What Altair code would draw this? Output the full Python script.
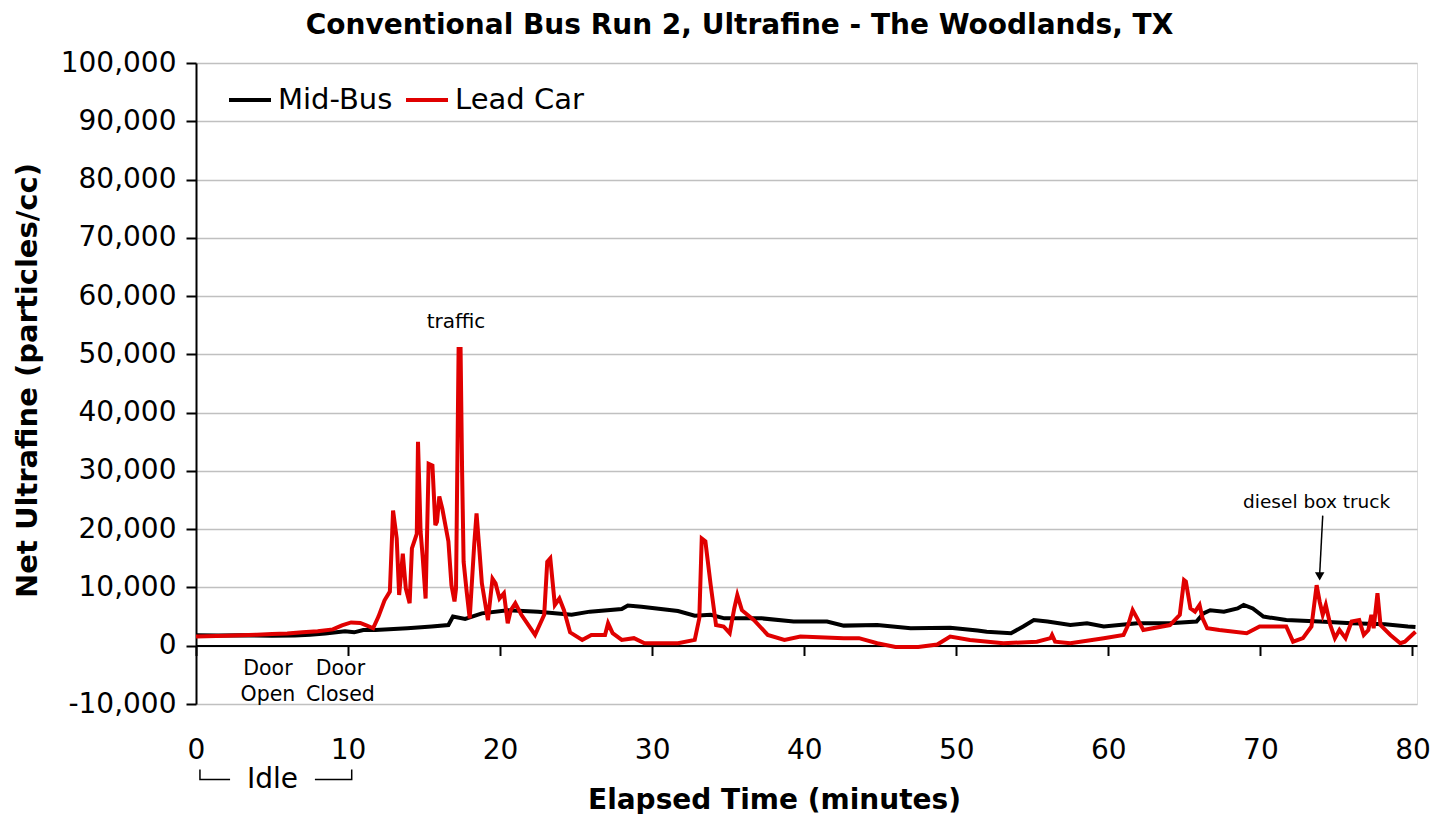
import altair as alt
import pandas as pd

FONT = "DejaVu Sans"

# ---------------- data ----------------
series_names = ["Mid-Bus", "Lead Car"]
series_colors = ["#000000", "#e00000"]

mid_bus_t = [0, 1.5, 3, 5, 6.5, 7.5, 8.5, 9.8, 10.4, 11.0,
             11.8, 13.9, 15.5, 16.6, 16.9, 17.7, 18.8, 20.5, 22.5, 24.7,
             25.9, 28.0, 28.4, 29.3, 31.7, 32.8, 33.85, 34.75, 37.2, 39.3,
             41.5, 42.6, 44.8, 47.0, 49.6, 51.4, 52.0, 53.6, 54.4, 55.1,
             56.0, 57.5, 58.6, 59.7, 61.9, 64.05, 65.8, 66.25, 66.7, 67.6,
             68.5, 68.9, 69.5, 70.2, 71.7, 73.9, 76.0, 78.2, 79.7, 80.2]
mid_bus_v = [1800, 1750, 1800, 1700, 1750, 1900, 2100, 2500, 2300, 2700,
             2700, 3000, 3300, 3550, 5000, 4600, 5550, 6100, 5850, 5300,
             5850, 6300, 6900, 6700, 5950, 5150, 5300, 4700, 4700, 4150,
             4150, 3450, 3550, 3000, 3100, 2600, 2400, 2150, 3300, 4400,
             4150, 3550, 3850, 3300, 3850, 3850, 4150, 5550, 6100, 5850,
             6400, 7000, 6400, 5000, 4400, 4150, 3850, 3700, 3300, 3200]

lead_car_t = [0, 2, 4, 5, 6, 7, 8, 9, 9.6, 10.2,
              10.8, 11.2, 11.65, 12.0, 12.4, 12.75, 12.96, 13.2, 13.36, 13.6,
              13.8, 14.05, 14.2, 14.52, 14.6, 14.77, 14.9, 15.1, 15.3, 15.55,
              15.74, 15.85, 16.0, 16.2, 16.6, 16.8, 17.0, 17.1, 17.27, 17.4,
              17.5, 17.6, 17.8, 18.0, 18.3, 18.45, 18.65, 18.8, 19.2, 19.5,
              19.7, 19.96, 20.25, 20.5, 20.7, 21.0, 21.4, 22.3, 22.9, 23.1,
              23.3, 23.6, 23.9, 24.2, 24.6, 25.4, 26.0, 26.9, 27.1, 27.4,
              28.0, 28.8, 29.5, 31.7, 32.8, 33.1, 33.26, 33.5, 33.85, 34.2,
              34.7, 35.1, 35.4, 35.6, 35.9, 36.7, 37.6, 38.7, 39.75, 42.6,
              43.6, 44.8, 46.0, 47.5, 48.75, 49.6, 50.9, 53.1, 55.3, 56.2,
              56.3, 56.5, 57.5, 59.7, 61.0, 61.3, 61.6, 61.9, 62.3, 64.05,
              64.7, 64.98, 65.1, 65.4, 65.7, 66.0, 66.2, 66.5, 67.3, 69.1,
              69.95, 71.7, 72.15, 72.8, 73.36, 73.7, 73.9, 74.1, 74.3, 74.6,
              74.9, 75.2, 75.6, 76.0, 76.5, 76.8, 77.1, 77.3, 77.45, 77.7,
              77.9, 78.55, 79.2, 79.5, 80.2]
lead_car_v = [1600, 1700, 1900, 2000, 2100, 2300, 2500, 2800, 3500, 4000,
              3900, 3500, 3000, 5000, 7800, 9300, 23200, 18400, 8700, 15800,
              9800, 7300, 16700, 19200, 35000, 19600, 15500, 8100, 31200, 30900,
              20700, 21300, 25600, 23500, 17900, 10400, 7600, 9800, 50900, 50900,
              30000, 14400, 9300, 4700, 17500, 22700, 16000, 10700, 4400, 11500,
              10700, 8100, 9000, 3850, 6100, 7300, 5300, 1850, 5300, 14400,
              15000, 7000, 8100, 6100, 2300, 1000, 1850, 1850, 3850, 2150,
              1000, 1300, 430, 430, 1000, 4700, 18400, 17900, 10400, 3550,
              3300, 2150, 6400, 8700, 6100, 4400, 1850, 1000, 1570, 1300,
              1300, 430, -200, -200, 200, 1570, 1000, 430, 700, 1300,
              1850, 700, 430, 1300, 1850, 3550, 6100, 4700, 2700, 3550,
              5300, 11250, 11000, 6400, 5850, 7000, 4700, 3000, 2700, 2150,
              3300, 3300, 700, 1300, 3300, 10400, 7550, 5300, 7000, 3550,
              1300, 2700, 1300, 4150, 4400, 1850, 2700, 5300, 3000, 9000,
              3550, 1850, 430, 700, 2400]

x_ticks = [0, 10, 20, 30, 40, 50, 60, 70, 80]
y_ticks = [-10000, 0, 10000, 20000, 30000, 40000, 50000, 60000, 70000, 80000, 90000, 100000]

title_text = "Conventional Bus Run 2, Ultrafine - The Woodlands, TX"
x_title = "Elapsed Time (minutes)"
y_title = "Net Ultrafine (particles/cc)"

# annotations (text, t, value)
traffic_label = ["traffic"]
traffic_t = [17.1]
traffic_v = [54500]
truck_label = ["diesel box truck"]
truck_t = [73.7]
truck_v = [23660]
arrow_t = [74.1, 73.9]
arrow_v = [22330, 12300]
arrow_head_t = [73.9]
arrow_head_v = [11900]
door_label = ["Door\nOpen", "Door\nClosed"]
door_t = [4.73, 9.5]
door_v = [-5000, -5000]
idle_label = ["Idle"]
idle_t = [5.03]
idle_v = [-24500]
bracket_t = [2.24, 0.26, 0.26, 7.82, 10.24, 10.24]
bracket_v = [-22970, -22970, -21260, -22970, -22970, -21260]
bracket_grp = ["L", "L", "L", "R", "R", "R"]

assert len(mid_bus_t) == len(mid_bus_v)
assert len(lead_car_t) == len(lead_car_v)

# ---------------- tables ----------------
df = pd.DataFrame(
    [{"t": t, "v": v, "series": "Mid-Bus"} for t, v in zip(mid_bus_t, mid_bus_v)]
    + [{"t": t, "v": v, "series": "Lead Car"} for t, v in zip(lead_car_t, lead_car_v)]
)

x_scale = alt.Scale(domain=[0, 80.3], nice=False, zero=False)
y_scale = alt.Scale(domain=[-10000, 100000], nice=False, zero=False)

x_main_axis = alt.Axis(
    orient="bottom", values=x_ticks, ticks=False, domain=False, grid=False,
    labelFont=FONT, labelFontSize=28, labelColor="black", labelPadding=46,
    labelBaseline="middle", labelFlush=False, labelOverlap=False,
    title=x_title, titleFont=FONT, titleFontSize=28, titleFontWeight="bold",
    titleColor="black", titleX=578, titleY=104, titleAlign="center",
    titleBaseline="alphabetic",
)

y_axis = alt.Axis(
    orient="left", values=y_ticks,
    labelExpr="replace(format(datum.value, ','), '\u2212', '-')",
    labelFont=FONT, labelFontSize=28, labelColor="black", labelPadding=10,
    labelFlush=False, labelOverlap=False,
    tickSize=10, tickWidth=2, tickColor="black",
    domain=True, domainColor="black", domainWidth=2,
    grid=True, gridColor="#c0c0c0", gridWidth=1.5,
    title=y_title, titleFont=FONT, titleFontSize=29, titleFontWeight="bold",
    titleColor="black", titleAngle=270, titleX=-160, titleY=317,
    titleAlign="center", titleBaseline="alphabetic",
)

lines = alt.Chart(df).mark_line(strokeWidth=4, clip=True).encode(
    x=alt.X("t:Q", scale=x_scale, axis=x_main_axis),
    y=alt.Y("v:Q", scale=y_scale, axis=y_axis),
    color=alt.Color(
        "series:N",
        scale=alt.Scale(domain=series_names, range=series_colors),
        legend=alt.Legend(
            title=None, orient="none", legendX=31, legendY=14,
            direction="horizontal", symbolType="stroke", symbolSize=1764,
            symbolStrokeWidth=4, labelFont=FONT, labelFontSize=29,
            labelColor="black", labelOffset=5, columnPadding=5, padding=0,
            labelLimit=400,
        ),
    ),
)

# zero line with downward ticks (second x axis, offset into the plot)
zero_df = pd.DataFrame({"t": x_ticks, "zero": [0] * len(x_ticks)})
zero_axis_layer = alt.Chart(zero_df).mark_point(opacity=0).encode(
    x=alt.X("t:Q", scale=x_scale, axis=alt.Axis(
        orient="bottom", offset=-58.5, values=x_ticks, labels=False,
        ticks=True, tickSize=10, tickWidth=2, tickColor="black",
        domain=True, domainColor="black", domainWidth=2, grid=False, title=None,
    )),
    y=alt.Y("zero:Q", scale=y_scale, axis=None),
)


def text_layer(labels, ts, vs, size, **kw):
    d = pd.DataFrame({"label": labels, "t": ts, "v": vs})
    return alt.Chart(d).mark_text(
        font=FONT, fontSize=size, color="black", baseline="alphabetic",
        align="center", **kw
    ).encode(
        x=alt.X("t:Q", scale=x_scale, axis=None),
        y=alt.Y("v:Q", scale=y_scale, axis=None),
        text="label:N",
    )


traffic = text_layer(traffic_label, traffic_t, traffic_v, 20)
truck = text_layer(truck_label, truck_t, truck_v, 18.5)
doors = text_layer(door_label, door_t, door_v, 20.5, lineBreak="\n", lineHeight=26)
idle = text_layer(idle_label, idle_t, idle_v, 28)

arrow_df = pd.DataFrame({"t": arrow_t, "v": arrow_v, "o": [0, 1]})
arrow = alt.Chart(arrow_df).mark_line(color="black", strokeWidth=1.5).encode(
    x=alt.X("t:Q", scale=x_scale, axis=None),
    y=alt.Y("v:Q", scale=y_scale, axis=None),
    order="o:Q",
)
head_df = pd.DataFrame({"t": arrow_head_t, "v": arrow_head_v})
head = alt.Chart(head_df).mark_point(
    shape="triangle-down", filled=True, color="black", size=90, opacity=1
).encode(
    x=alt.X("t:Q", scale=x_scale, axis=None),
    y=alt.Y("v:Q", scale=y_scale, axis=None),
)

bracket_df = pd.DataFrame({
    "t": bracket_t, "v": bracket_v, "g": bracket_grp,
    "o": list(range(len(bracket_t))),
})
bracket = alt.Chart(bracket_df).mark_line(color="black", strokeWidth=1.5).encode(
    x=alt.X("t:Q", scale=x_scale, axis=None),
    y=alt.Y("v:Q", scale=y_scale, axis=None),
    detail="g:N",
    order="o:Q",
)

chart = alt.layer(
    lines, zero_axis_layer, traffic, truck, arrow, head, doors, idle, bracket
).resolve_axis(x="independent", y="independent").properties(
    width=1221,
    height=641,
    autosize=alt.AutoSizeParams(type="none"),
    padding={"left": 188, "top": 55, "right": 15, "bottom": 110},
    title=alt.TitleParams(
        text=title_text, font=FONT, fontSize=28, fontWeight="bold",
        color="black", anchor="middle", frame="group", dx=-67, dy=18,
        offset=5, baseline="alphabetic",
    ),
).configure_view(
    stroke="#a0a0a0", strokeWidth=2
).configure(background="white")

chart.save("out.html", embed_options={"renderer": "svg", "actions": False})
